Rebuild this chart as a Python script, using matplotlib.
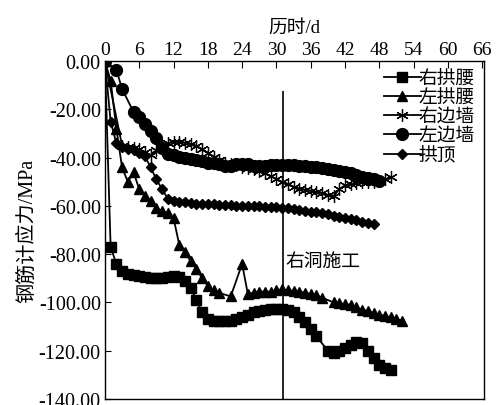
import matplotlib
matplotlib.use('Agg')
import matplotlib.pyplot as plt

plt.rcParams['font.family'] = ['Liberation Serif', 'Noto Sans CJK SC']
plt.rcParams['axes.unicode_minus'] = False

# rebar gauge stress, MPa
days_ygy = [0, 1, 2, 3, 4, 5, 6, 7, 8, 9, 10, 11, 12, 13, 14, 15, 16, 17, 18, 19, 20,
            21, 22, 23, 24, 25, 26, 27, 28, 29, 30, 31, 32, 33, 34, 35, 36, 37, 39, 40,
            41, 42, 43, 44, 45, 46, 47, 48, 49, 50]
right_haunch = [0, -77, -84, -87, -88, -88.5, -89, -89.5, -90, -90, -90, -89.5, -89, -89.5,
                -91, -94, -99, -104, -107, -107.5, -107.7, -107.7, -107.7, -107, -106, -105,
                -104, -103.5, -103, -102.7, -102.7, -102.7, -103, -104, -106, -108, -111,
                -114, -120, -121, -120, -119, -117.5, -116.5, -117, -120, -123, -126, -127, -128]

days_zgy = [0, 1, 2, 3, 4, 5, 6, 7, 8, 9, 10, 11, 12, 13, 14, 15, 16, 17, 18, 19, 20, 22,
            24, 25, 26, 27, 28, 29, 30, 31, 32, 33, 34, 35, 36, 37, 38, 40, 41, 42, 43, 44,
            45, 46, 47, 48, 49, 50, 51, 52]
left_haunch = [0, -8, -28, -44, -50, -46, -53, -56, -58, -61, -62, -63, -65, -76, -79, -83,
               -86, -90, -93, -95, -96, -97.5, -84, -96.5, -96, -95.5, -95.5, -95.5, -95,
               -94.5, -95, -95.2, -95.5, -96, -96.5, -97, -98, -100, -100.3, -100.7, -101,
               -102, -103, -103.6, -104.3, -105, -105.6, -106.2, -107, -107.5]

days_ybq = [0] + list(range(3, 51))
right_wall = [0, -35, -35.5, -35.8, -36.5, -37.5, -39, -37, -35, -34, -33.5, -33.5,
              -33.8, -34.3, -35, -36.5, -38, -39.5, -41, -42, -42.5, -43.2, -43.8, -44.3,
              -44.7, -45.5, -46.5, -47.7, -48.8, -50, -51, -52, -52.8, -53.3, -53.8, -54.2,
              -54.6, -55.5, -56, -53, -51.5, -51, -50.5, -50.2, -50, -50, -49.7, -49, -48]

days_zbq = [0, 2, 3, 5, 6, 7, 8, 9, 10, 11, 12, 13, 14, 15, 16, 17, 18, 19, 20, 21, 22, 23,
            24, 25, 26, 27, 28, 29, 30, 31, 32, 33, 34, 35, 36, 37, 38, 39, 40, 41, 42, 43,
            44, 45, 46, 47, 48]
left_wall = [0, -3.5, -11.5, -21, -23, -26, -29, -32, -36, -38.5, -39, -39.5, -40, -40.6,
             -41, -41.4, -42, -42.3, -42.7, -43.5, -43.5, -42.7, -42.5, -42.7, -43.3, -43.5,
             -43.3, -43, -43, -43, -43, -43, -43.5, -43.5, -43.8, -44, -44.3, -44.7, -45,
             -45.5, -46, -46.5, -47.3, -48, -48.5, -49, -49.7]

days_gd = list(range(0, 48))
crown = [0, -25, -34, -35.5, -36.5, -37, -38, -39.4, -44, -49, -53, -57, -58, -58.5, -58.5,
         -58.7, -59, -59, -59, -59.3, -59.5, -59.5, -59.7, -60, -60, -60, -60, -60.2, -60.3,
         -60.5, -60.6, -60.8, -61, -61.3, -61.6, -62, -62.3, -62.7, -63, -63.5, -64, -64.5,
         -65, -65.5, -66, -66.5, -67, -67.5]

series_names = ['右拱腰', '左拱腰', '右边墙', '左边墙', '拱顶']
x_ticks = [0, 6, 12, 18, 24, 30, 36, 42, 48, 54, 60, 66]
y_ticks = [0, -20, -40, -60, -80, -100, -120, -140]

# right tunnel construction start
event_day = 31.1
event_top = -12.5
event_label = '右洞施工'

fs = 13.5

fig = plt.figure(figsize=(5.02, 4.06), dpi=100)
ax = fig.add_axes([0.209, 0.0148, 0.755, 0.832])

lw = 1.3
ax.plot(days_ygy, right_haunch, color='k', lw=lw, marker='s', ms=7.5, label=series_names[0])
ax.plot(days_zgy, left_haunch, color='k', lw=lw, marker='^', ms=7.5, label=series_names[1])
ax.plot(days_ybq, right_wall, color='k', lw=lw, marker=(6, 2, 0), ms=9, mew=0.9,
        label=series_names[2])
ax.plot(days_zbq, left_wall, color='k', lw=lw, marker='o', ms=8.5, label=series_names[3])
ax.plot(days_gd, crown, color='k', lw=lw, marker='D', ms=5.5, label=series_names[4])

ax.vlines(event_day, -140, event_top, color='k', lw=1.2)
ax.text(event_day + 0.4, -83, event_label, fontsize=fs, va='center', ha='left')

ax.set_xlim(0, 66.3)
ax.set_ylim(-140, 0)
ax.xaxis.tick_top()
ax.xaxis.set_label_position('top')
ax.set_xticks(x_ticks)
ax.set_yticks(y_ticks)
ax.set_yticklabels(['%.2f' % v for v in y_ticks])
ax.tick_params(axis='x', direction='in', length=5, labelsize=14, pad=2)
ax.tick_params(axis='y', direction='in', length=4, labelsize=14.5, pad=3)
ax.set_xlabel('历时/d', fontsize=fs, labelpad=7)
ax.set_ylabel('钢筋计应力/MPa', fontsize=14.5, labelpad=1)
for s in ax.spines.values():
    s.set_linewidth(1.0)

ax.legend(loc='upper right', frameon=False, fontsize=fs, handlelength=2.0,
          handletextpad=-0.15, labelspacing=0.1, borderaxespad=0.1,
          bbox_to_anchor=(1.0, 1.0))

fig.savefig('out.png', dpi=100)
